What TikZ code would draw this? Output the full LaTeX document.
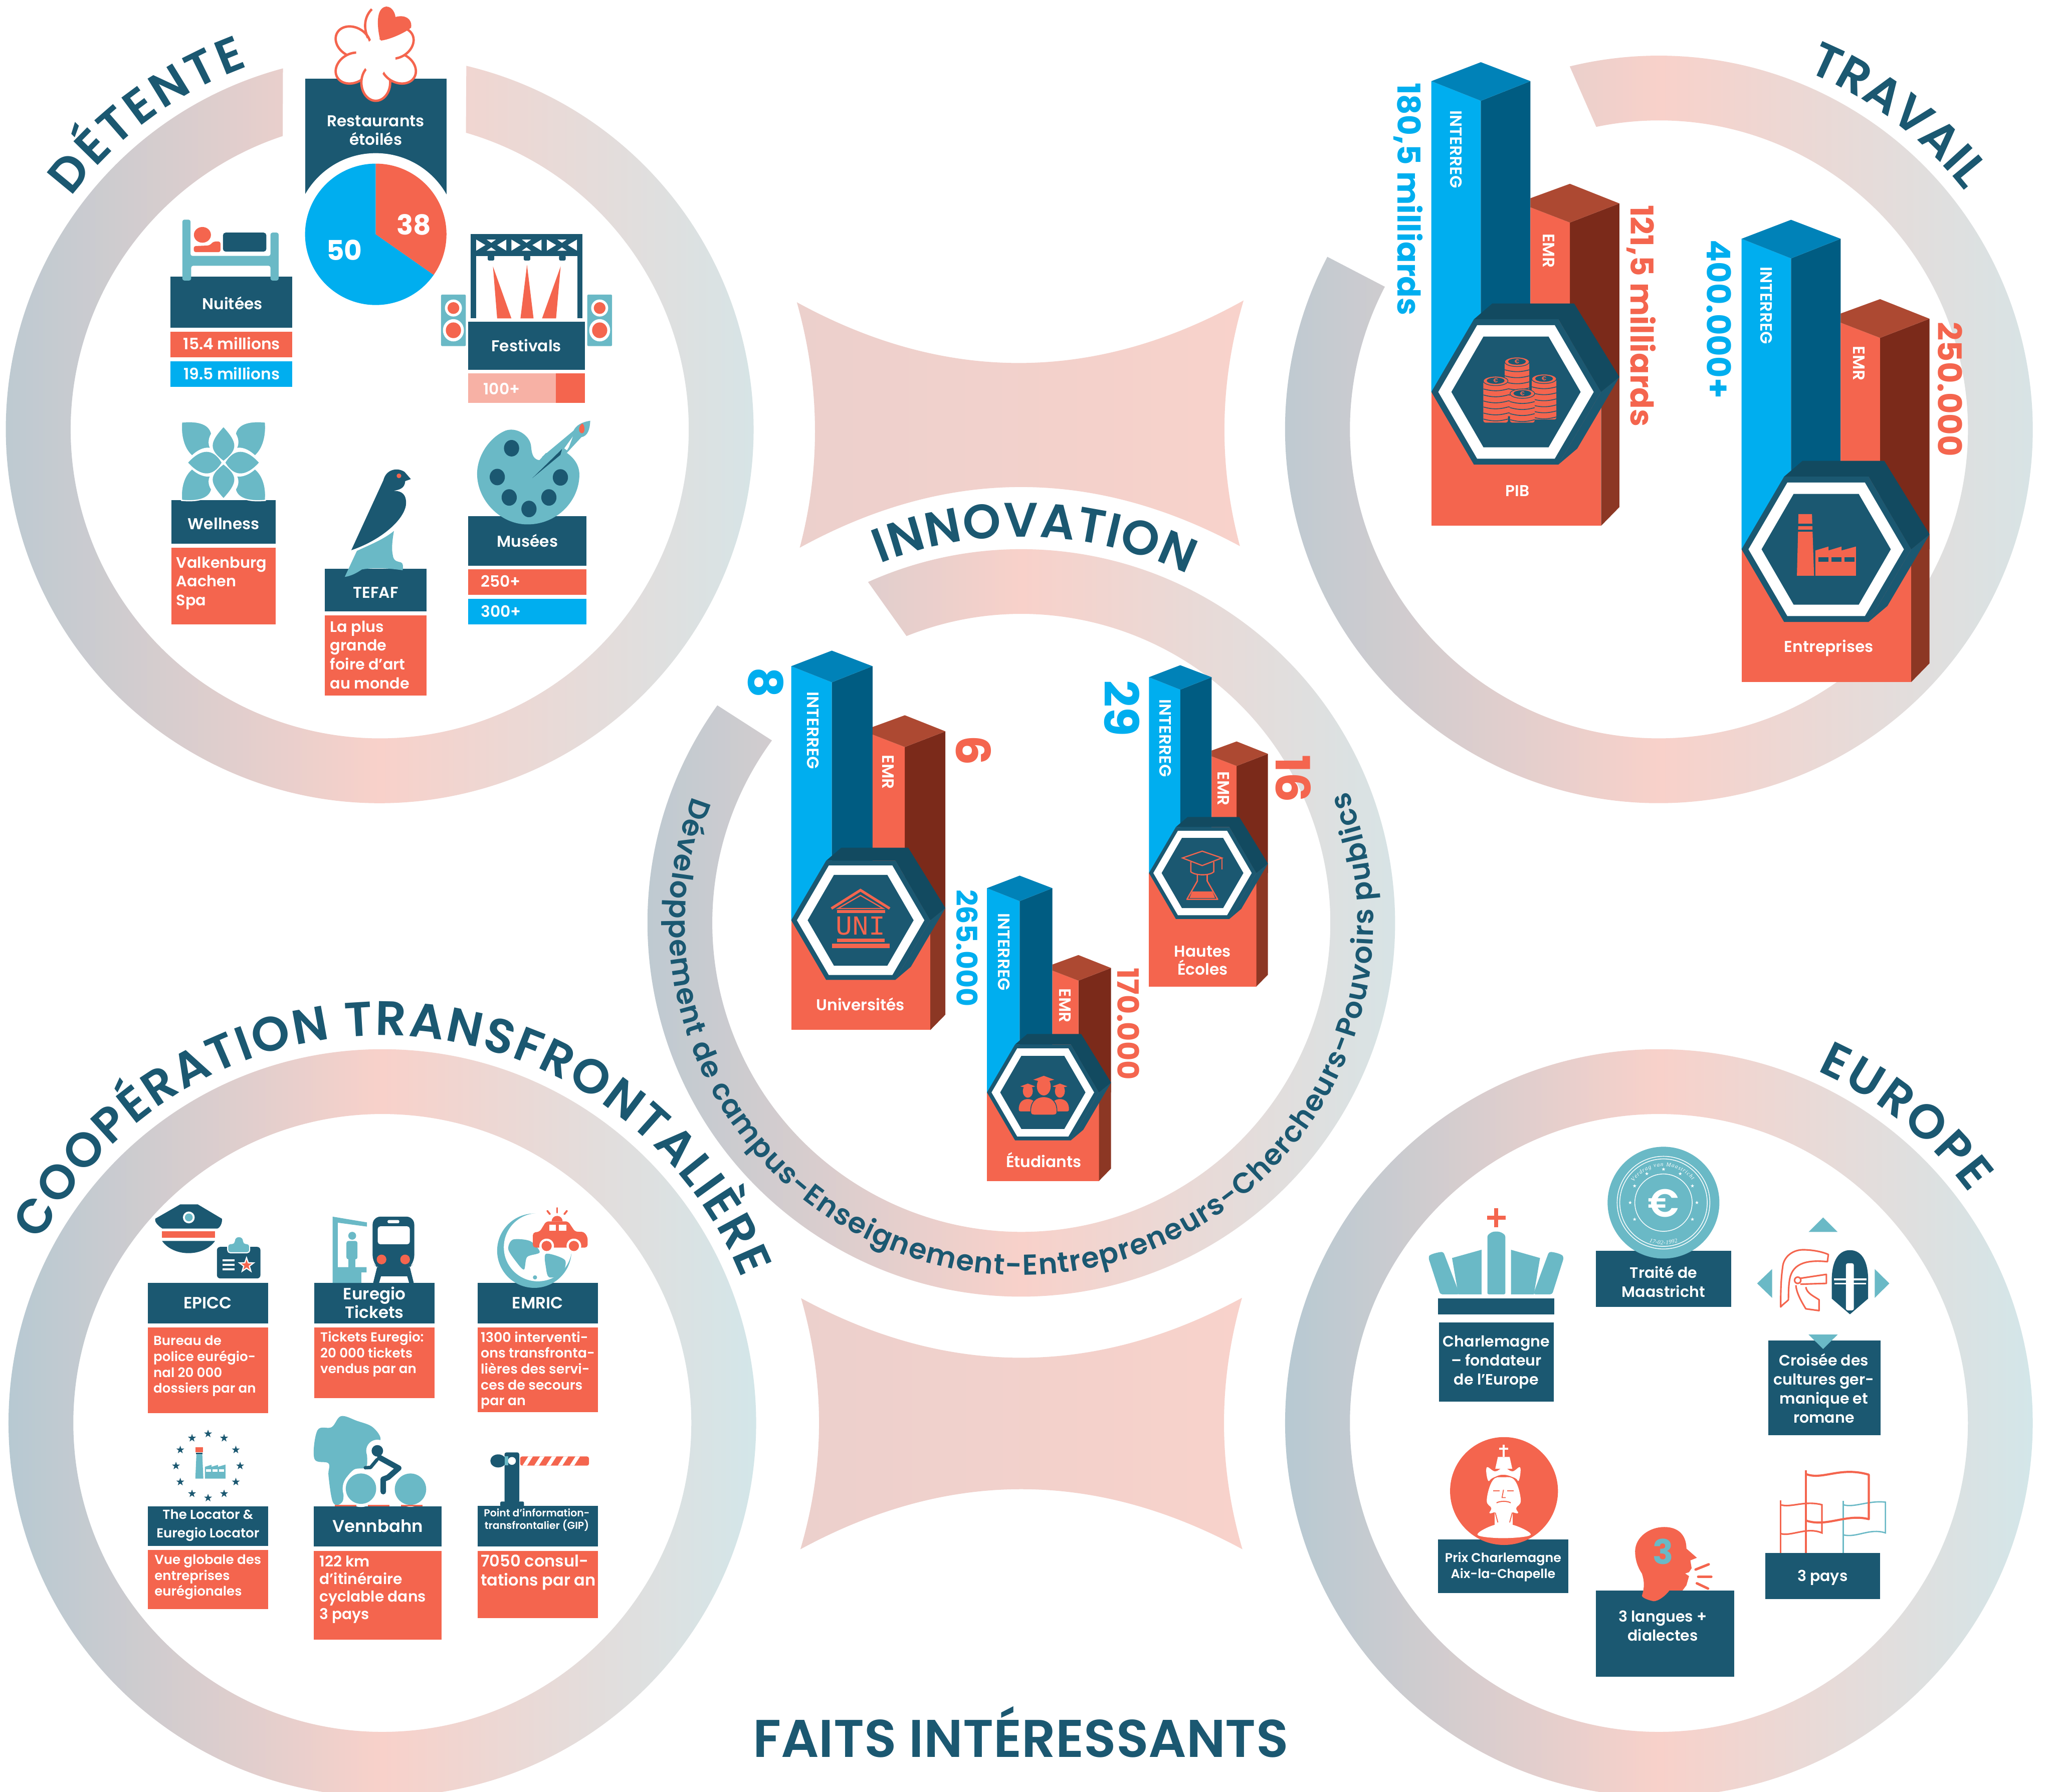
\documentclass[tikz,border=0pt]{standalone}
\usepackage{fontspec}
\setmainfont{Poppins}[UprightFont=* SemiBold,BoldFont=* Bold]
\newfontfamily\serifmini{Liberation Serif}
\newfontfamily\monomini{Liberation Mono}
\usetikzlibrary{decorations.text}
\definecolor{dk}{HTML}{1B5871}
\definecolor{cor}{HTML}{F4654E}
\definecolor{blu}{HTML}{00AEEF}
\definecolor{tl}{HTML}{6AB9C6}
\definecolor{blutop}{HTML}{0082B8}
\definecolor{bludk}{HTML}{005C82}
\definecolor{emrtop}{HTML}{AD4932}
\definecolor{emrdk}{HTML}{7B2A1A}
\definecolor{emrside}{HTML}{8C3724}
\definecolor{hexb}{HTML}{124A60}
\definecolor{lsalmon}{HTML}{F7B1A5}
\definecolor{starl}{HTML}{ECD0CC}
\definecolor{starr}{HTML}{F8D2CB}
\newcommand\fz[2]{\fontsize{#1}{#2}\selectfont}
\newcommand\tit{\color{dk}\fz{37}{37}}
\newcommand\rtx{\color{dk}\fz{22}{22}}
\newcommand\bx[5]{\fill[#1] (#2,#3) rectangle (#4,#5);}
\newcommand\arctext[7]{\path[decorate,decoration={text along path,text align={fit to path},text={|#6|#7}}] ({#1+#3*cos(#4)},{#2+#3*sin(#4)}) arc[start angle=#4,end angle=#5,radius=#3];}
\newcommand\ringfull[2]{\path[even odd rule,ringshade] (#1,#2) circle (285.5) (#1,#2) circle (236);}
% cx cy a1out a2out a1in a2in
\newcommand\ringpart[6]{\path[ringshade] ({#1+285.5*cos(#3)},{#2+285.5*sin(#3)}) arc[start angle=#3,end angle=#4,radius=285.5] -- ({#1+236*cos(#6)},{#2+236*sin(#6)}) arc[start angle=#6,end angle=#5,radius=236] -- cycle;}
\newcommand\starf[4]{\begin{scope}[shift={({#1},{#2})}]\fill[#4] (-90:#3)--(-54:{.4*#3})--(-18:#3)--(18:{.4*#3})--(54:#3)--(90:{.4*#3})--(126:#3)--(162:{.4*#3})--(198:#3)--(234:{.4*#3})--cycle;\end{scope}}
% x0 yh s T A B
\newcommand\isobar[6]{\begin{scope}[shift={(#1,#2)},scale=#3]
\fill[blu] (0,#4)--(37.8,{#4+15})--(37.8,0)--(0,0)--cycle;
\fill[bludk] (37.8,{#4+15})--(75.7,#4)--(75.7,0)--(37.8,0)--cycle;
\fill[blutop] (0,#4)--(37.8,{#4-14.5})--(75.7,#4)--(37.8,{#4+15})--cycle;
\fill[emrdk] (105.8,{#5+29.6})--(143.6,{#5+15})--(143.6,0)--(105.8,0)--cycle;
\fill[cor] (75.7,{#5+18})--(105.8,{#5+29.6})--(105.8,0)--(75.7,0)--cycle;
\fill[emrtop] (75.7,{#5+11})--(105.8,#5)--(143.6,{#5+15})--(105.8,{#5+29.6})--(75.7,{#5+18})--cycle;
\fill[cor] (0,0)--(129.6,0)--(129.6,#6)--(0,#6)--cycle;
\fill[emrside] (129.6,11)--(143.6,-11)--(143.6,{#6-14.3})--(129.6,#6)--cycle;
\fill[hexb] (32.5,-55.5)--(46.6,-67.6)--(109,-67.6)--(143.6,-11.4)--(129.6,0)--(97,-55.5)--cycle;
\fill[dk] (129.6,0)--(143.6,-11.4)--(111.4,43.3)--(97,55.5)--cycle;
\fill[dk] (0,0)--(32.5,-55.5)--(97,-55.5)--(129.6,0)--(97,55.5)--(32.5,55.5)--cycle;
\fill[white] (5.3,0)--(35,-51)--(94.2,-51)--(124,0)--(94.2,51)--(35,51)--cycle;
\fill[dk] (15.3,0)--(39.8,-42.3)--(89.5,-42.3)--(114,0)--(89.5,42.3)--(39.8,42.3)--cycle;
\end{scope}}
% x ytop ybot name nlines
\newcommand\coin[5]{\fill[cor,rounded corners=1.5] ({#1-9.4},{#2+3}) rectangle ({#1+9.4},#3);
\foreach \k in {1,...,#5}{\draw[dk,line width=.6] ({#1-9.4},{#2+4.5+\k*4.6}) to[bend right=15] ({#1+9.4},{#2+4.5+\k*4.6});}
\fill[cor] (#1,{#2+3}) ellipse (9.4 and 3.6);
\draw[dk,line width=.5] (#1,{#2+3}) ellipse (9.4 and 3.6);
\fill[dk] (#1,{#2+2.8}) ellipse (6.8 and 2.4);
\node[inner sep=0,text=cor,font=\fz{4.5}{5}] (#4) at (#1,{#2+2.8}) {€};}
\tikzset{
 ringshade/.style={left color=ringl,right color=ringr,middle color=ringm},
 starshade/.style={left color=starl,right color=starr},
 txt/.style={inner sep=0,text=white,align=center,font=\fz{12}{14}},
 ltx/.style={inner sep=0,text=white,align=left,anchor=north west,font=\fz{10}{12.1}},
 vert/.style={inner sep=0,rotate=-90,anchor=west,text=white,font=\fz{12.6}{13}},
 blv/.style={inner sep=0,rotate=-90,anchor=west,text=blu},
 crv/.style={inner sep=0,rotate=-90,anchor=west,text=cor},
}
\definecolor{ringl}{HTML}{B7C9D2}
\definecolor{ringm}{HTML}{F8D1CA}
\definecolor{ringr}{HTML}{D3E6E9}
\begin{document}
\begin{tikzpicture}[x=1pt,y=-1pt]
\useasboundingbox (0,0) rectangle (1568,1368.7);
\fill[white] (0,0) rectangle (1568,1368.7);
% ---------- rings
\ringpart{290}{328}{-105}{-436.6}{-108.3}{-433.8}
\ringpart{1267}{328}{-152.5}{-463.8}{-152.5}{-461.7}
\ringpart{780}{705}{-144.4}{-474.2}{-143.8}{-471.8}
\ringfull{292}{1087}
\ringfull{1267}{1087}
% ---------- centre shapes
\path[starshade] (608.6,230.9) .. controls (722,293) and (836,293) .. (949.8,229.5) .. controls (931.3,292) and (930.3,354.7) .. (947,417.2) .. controls (835,356.8) and (723,356.8) .. (610.8,418.4) .. controls (627.3,356) and (626,293) .. cycle;
\path[starshade] (611.8,991.7) .. controls (724,1052.4) and (836,1052.4) .. (948.6,991.4) .. controls (930.2,1055.5) and (930.2,1119.5) .. (948.9,1183.5) .. controls (836,1122.3) and (724,1122.3) .. (611.3,1183.5) .. controls (630.2,1119.5) and (630.2,1055.5) .. cycle;
% ---------- titles on arcs
\arctext{290}{328}{295}{-143}{-110}{\tit}{DÉTENTE}
\arctext{1267}{328}{296}{-67.5}{-38}{\tit}{TRAVAIL}
\arctext{780}{705}{295}{-111.5}{-64.5}{\tit}{INNOVATION}
\arctext{292}{1087}{296}{-152}{-22}{\tit}{COOPÉRATION TRANSFRONTALIÈRE}
\arctext{1267}{1087}{295}{-65.8}{-36.5}{\tit}{EUROPE}
\arctext{780}{705}{269}{-159}{-382}{\rtx}{Développement de campus-Enseignement-Entrepreneurs-Chercheurs-Pouvoirs publics}
\node[inner sep=0,text=dk,font=\fz{40.5}{40}] (faits) at (779.5,1323) {FAITS INTÉRESSANTS};
% ---------- DETENTE boxes
\bx{dk}{233}{60}{341}{148.5}
\fill[white] (287,179) circle (62);
\fill[blu] (287,179) -- ++(35:54) arc[start angle=35,end angle=270,radius=54] -- cycle;
\fill[cor] (287,179) -- ++(-90:54) arc[start angle=-90,end angle=35,radius=54] -- cycle;
\bx{dk}{130.2}{211.4}{223}{250.3}
\bx{cor}{130.2}{253.3}{223}{273}
\bx{blu}{130.2}{275.9}{223}{295.6}
\bx{dk}{357.5}{245.6}{446.7}{282.7}
\bx{lsalmon}{357.5}{285.3}{424.5}{307.7}
\bx{cor}{424.5}{285.3}{446.7}{307.7}
\bx{dk}{131.1}{382}{210.7}{415.2}
\bx{cor}{131.1}{418.3}{210.7}{477}
\bx{dk}{248.1}{434.5}{325.7}{467}
\bx{cor}{248.1}{470}{325.7}{531.2}
\bx{dk}{357.5}{394.2}{448}{432}
\bx{cor}{357.5}{434.8}{448}{454.5}
\bx{blu}{357.5}{457.5}{448}{477}
% Michelin flower
\begin{scope}[shift={(287,42)}]
\foreach \a/\d in {150/20,210/20,270/21,330/20,30/18}{
 \fill[white,draw=cor,line width=1.8,rotate=\a] (\d,0) ellipse (14 and 11);}
\fill[white] (-3,-12) -- (3,-12) -- (12,-4) -- (12,4) -- (4,16) -- (-4,16) -- (-12,4) -- (-12,-4) -- cycle;
\fill[white] (0,0) circle (11);
\fill[white] (-15,-5) -- (0,0) -- (-15,5) -- cycle;
\fill[white] (15,-5) -- (0,0) -- (15,5) -- cycle;
\fill[cor] (3,-13) .. controls (1,-22) and (0,-36) .. (8,-37) .. controls (13,-37) and (15,-31) .. (15,-29) .. controls (22,-31) and (28,-28) .. (27,-21) .. controls (24,-18) and (12,-12) .. (4,-11) -- cycle;
\draw[cor,line width=1.8] (-6,-13) .. controls (-10,-22) and (-8,-30) .. (-3,-35);
\end{scope}
% bed
\begin{scope}[tl]
\fill[rounded corners=1.5] (139.3,214.3) -- (139.3,167.8) -- (145.5,167.8) -- (145.5,195.5) -- (206.6,195.5) -- (206.6,177.7) -- (212.8,177.7) -- (212.8,214.3) -- (206.6,214.3) -- (206.6,203) -- (146,203) -- (146,214.3) -- cycle;
\end{scope}
\fill[cor] (154.6,179.4) ellipse (6.5 and 6);
\fill[cor,rounded corners=1.5] (148,188) -- (160,187.5) -- (163,184.5) -- (168.4,184.5) -- (168.4,192.6) -- (148,192.6) -- cycle;
\fill[dk,rounded corners=2] (170.3,192.2) -- (170.3,177.7) -- (203.4,177.7) -- (203.4,192.2) -- cycle;
% stage
\fill[dk] (359.6,178.7) rectangle (444.8,195.5);
\fill[dk] (359.6,195) rectangle (363.7,243);
\fill[dk] (441,195) rectangle (444.8,243);
\foreach \xx in {363.7,390.6,417.7}{
 \fill[white] (\xx,183) -- (\xx,191.5) -- ({\xx+7},187.2) -- cycle;
 \fill[white] ({\xx+23},183) -- ({\xx+23},191.5) -- ({\xx+16},187.2) -- cycle;
 \fill[white] ({\xx+8},183) -- ({\xx+15},183) -- ({\xx+11.5},185.5) -- cycle;
 \fill[white] ({\xx+8},191.5) -- ({\xx+15},191.5) -- ({\xx+11.5},189) -- cycle;
}
\foreach \xx in {375,402.5,429.5}{\fill[dk,rounded corners=1] ({\xx-2.5},195) rectangle ({\xx+2.5},199);}
\fill[cor] (376.5,203.5) -- (379.7,243.2) -- (390.6,243.2) -- cycle;
\fill[cor] (402.5,202.3) -- (397.5,243.2) -- (407.5,243.2) -- cycle;
\fill[cor] (428.2,203.5) -- (414,243.2) -- (424.7,243.2) -- cycle;
\foreach \xx in {346.3,458}{
 \fill[tl,rounded corners=1] ({\xx-9.5},225) rectangle ({\xx+9.5},264.4);
 \fill[white] (\xx,235.3) ellipse (6.5 and 6.5);
 \fill[cor] (\xx,235.3) ellipse (4.5 and 4.5);
 \fill[white] (\xx,252.3) ellipse (8 and 8.5);
 \fill[cor] (\xx,252.3) ellipse (5.8 and 6);
}
% wellness
\begin{scope}[shift={(170.7,353.4)},tl]
\foreach \sx/\sy/\ex in {1/1/0,-1/1/0,1/-.93/0,-1/-.93/0}{
 \begin{scope}[xscale=\sx,yscale=\sy]
 \fill[draw=white,line width=.9] (-32,-31) .. controls (-22,-32) and (-11,-31) .. (-9,-22) .. controls (-12,-17) and (-11,-13) .. (-9.5,-10.5) .. controls (-13,-12) and (-19,-10) .. (-24,-5) .. controls (-30,-10) and (-33,-20) .. cycle;
 \end{scope}}
\fill (0,-27) .. controls (-11,-15) and (-11,-10) .. (0,-1.5) .. controls (11,-10) and (11,-15) .. cycle;
\fill (0,27) .. controls (-11,15) and (-11,10) .. (0,1.5) .. controls (11,10) and (11,15) .. cycle;
\fill (-27,0) .. controls (-17,-11) and (-8,-11) .. (-1.5,0) .. controls (-8,11) and (-17,11) .. cycle;
\fill (27,0) .. controls (17,-11) and (8,-11) .. (1.5,0) .. controls (8,11) and (17,11) .. cycle;
\end{scope}
% TEFAF bird
\fill[tl] (272.6,420.8) .. controls (283,416) and (293,412) .. (300.9,405.6) .. controls (299.5,413) and (299,420) .. (300,424) .. controls (300.5,429) and (304,429) .. (306,429.5) .. controls (308,430) and (308,433) .. (307.5,435.6) .. controls (297,434) and (285,433.5) .. (276.4,435) .. controls (272,438) and (268,440) .. (263.3,440.7) -- cycle;
\fill[dk] (268.3,420.3) -- (292.8,366.9) .. controls (295,358) and (304,357) .. (309,360.5) -- (313.8,366) -- (309.5,367.5) .. controls (309,373) and (306,374.5) .. (296,375.5) .. controls (306,373.5) and (311,377) .. (310,386) .. controls (308,398) and (290,413) .. cycle;
\fill[cor] (304.7,363.5) circle (1.8);
% palette
\fill[tl] (412,351.5) .. controls (406,351) and (406,344) .. (405.5,340) .. controls (404,332) and (394,326) .. (386,329) .. controls (374,334) and (364.4,348) .. (364.4,362) .. controls (364.4,382) and (382,400.6) .. (402.8,400.6) .. controls (426,400.6) and (442.5,382) .. (442.5,362.7) .. controls (442.5,354) and (437,349) .. (433,346) -- (425,352) -- (417,346) -- cycle;
\foreach \xx/\yy in {390.7/342.4,379.8/364.4,388.9/380,404/388.8,419.2/380,428/364.7}{\fill[dk] (\xx,\yy) ellipse (5.8 and 6.3);}
\fill[tl] (414,349) -- (438,329) .. controls (440,325) and (444,322.5) .. (450.8,321.4) .. controls (450.5,328) and (449,333) .. (444,334) -- (431,348) -- (425,355) -- cycle;
\fill[white] (431,342.5) -- (437.5,333.5) -- (434.5,341.5) -- (433,344) -- cycle;
\fill[dk] (406.6,365.2) -- (429.3,343) -- (428,347.5) -- cycle;
\fill[cor] (444.7,323.5) .. controls (447,325) and (447,331) .. (444.5,331) .. controls (442,331) and (441,326) .. cycle;
% DETENTE text
\node[txt] (t1) at (287,99.5) {Restaurants\\étoilés};
\node[txt,font=\fz{21}{21}\bfseries] (t2) at (316,171.5) {38};
\node[txt,font=\fz{21}{21}\bfseries] (t3) at (263,191) {50};
\node[txt] (t4) at (177.5,231.5) {Nuitées};
\node[txt] (t5) at (177,262.5) {15.4 millions};
\node[txt] (t6) at (177,285.5) {19.5 millions};
\node[txt] (t7) at (402,264) {Festivals};
\node[inner sep=0,text=white,anchor=west,font=\fz{12}{14}] (t8) at (369,297) {100+};
\node[txt] (t9) at (170.9,400) {Wellness};
\node[ltx,font=\fz{11.6}{14.4}] (t10) at (134.5,425) {Valkenburg\\Aachen\\Spa};
\node[txt] (t11) at (287,452.5) {TEFAF};
\node[ltx,font=\fz{11.6}{14.4}] (t12) at (252,474) {La plus\\grande\\foire d’art\\au monde};
\node[txt] (t13) at (402.8,413) {Musées};
\node[inner sep=0,text=white,anchor=west,font=\fz{12}{14}] (t14) at (367,444) {250+};
\node[inner sep=0,text=white,anchor=west,font=\fz{12}{14}] (t15) at (367,467) {300+};
% ---------- bars
\isobar{1093.2}{299.4}{1}{-237.4}{-159}{102.3}
\isobar{1330.1}{419.6}{1}{-237.2}{-191.1}{101.4}
\isobar{604.3}{703}{.82}{-236.7}{-191}{102.2}
\isobar{753.8}{834.5}{.66}{-236.4}{-159}{102.4}
\isobar{877.5}{666.9}{.633}{-236.3}{-158.8}{137}
\node[vert] (v1) at (1112.2,84.2) {INTERREG};
\node[vert] (v2) at (1349,203.5) {INTERREG};
\node[vert] (v3) at (620.8,528.2) {INTERREG};
\node[vert] (v4) at (766.8,697.3) {INTERREG};
\node[vert] (v5) at (890,534) {INTERREG};
\node[vert] (e1) at (1182.7,178.2) {EMR};
\node[vert] (e2) at (1419.9,264.3) {EMR};
\node[vert] (e3) at (678.3,576.5) {EMR};
\node[vert] (e4) at (813.4,755) {EMR};
\node[vert] (e5) at (934.4,589.2) {EMR};
\node[blv,font=\fz{24}{24}\bfseries] (a1) at (1075.7,63) {180,5 milliards};
\node[crv,font=\fz{24}{24}\bfseries] (a2) at (1253.4,156.4) {121,5 milliards};
\node[blv,font=\fz{25}{25}\bfseries] (a3) at (1312.9,183) {400.000+};
\node[crv,font=\fz{25}{25}\bfseries] (a4) at (1489.4,245.7) {250.000};
\node[blv,font=\fz{36}{36}\bfseries] (a5) at (585,509.5) {8};
\node[crv,font=\fz{36}{36}\bfseries] (a6) at (743.6,561.5) {6};
\node[blv,font=\fz{21.8}{21}\bfseries] (a7) at (738.8,679.4) {265.000};
\node[crv,font=\fz{22.5}{21}\bfseries] (a8) at (861.9,739.2) {170.000};
\node[blv,font=\fz{36}{36}\bfseries] (a9) at (856.8,519.6) {29};
\node[crv,font=\fz{36}{36}\bfseries] (a10) at (987.7,576.5) {16};
\node[txt] (b1) at (1158.9,374.8) {PIB};
\node[txt] (b2) at (1396.8,495) {Entreprises};
\node[txt] (b3) at (657.2,767.2) {Universités};
\node[txt] (b4) at (797.2,886) {Étudiants};
\node[txt] (b5) at (918.5,733.7) {Hautes\\Écoles};
% coins
\coin{1158.6}{273.4}{318}{ca}{8}
\coin{1179.3}{286.4}{320.5}{cb}{6}
\coin{1142.3}{288}{322.8}{cc}{6}
\coin{1162.7}{297.7}{322.8}{cd}{4}
% factory in hex
\fill[cor] (1373.6,392.7) -- (1383.9,392.7) -- (1385.5,439.8) -- (1372.4,439.8) -- cycle;
\fill[dk] (1372,400) rectangle (1386,402);
\fill[dk] (1372,404.5) rectangle (1386,406);
\fill[cor] (1386.5,439.8) -- (1386.5,420.5) -- (1396.5,417.5) -- (1396.5,420.5) -- (1406.5,417.5) -- (1406.5,420.5) -- (1417.5,417.5) -- (1417.5,439.8) -- cycle;
\foreach \xx in {1388.8,1398.8,1408.8}{\fill[dk] (\xx,425.5) rectangle ({\xx+7.5},429);}
% UNI
\draw[cor,line width=2] (635,694) -- (657.2,680) -- (679.5,694);
\draw[cor,line width=.9] (640,694) -- (657.2,684) -- (674.5,694) -- cycle;
\fill[cor] (639.2,695) rectangle (675.9,697.3);
\node[inner sep=0,text=cor,font=\monomini\fz{21}{21}] (uni) at (657.2,707.3) {UNI};
\fill[cor] (639.2,716.9) rectangle (675.6,719.8);
\fill[cor] (635.3,721) rectangle (679.4,724.2);
% students
\foreach \xx/\yy/\s in {785/833.5/.72,809.5/833.5/.72,797.2/829.8/1}{
 \begin{scope}[shift={(\xx,\yy)},scale=\s]
 \fill[cor,draw=dk,line width=.6] (-10,20) .. controls (-10.5,12) and (-6,8) .. (0,8) .. controls (6,8) and (10.5,12) .. (10,20) .. controls (10,22) and (8,22) .. (6,22) -- (-6,22) .. controls (-8,22) and (-10,22) .. (-10,20) -- cycle;
 \fill[cor] (0,0) ellipse (5.3 and 7);
 \fill[cor] (-8,-5) -- (0,-8) -- (8,-5) -- (0,-3) -- cycle;
 \end{scope}}
% graduate / flask
\draw[cor,line width=.9,fill=dk] (903.1,655.4) -- (918.2,650.2) -- (933.2,655.4) -- (918.2,661.2) -- cycle;
\draw[cor,line width=.9] (909.5,658.5) -- (909.5,666) .. controls (913,669) and (924,669) .. (927,666) -- (927,658.5);
\draw[cor,line width=.7] (933.2,655.4) -- (933.2,664);
\draw[cor,line width=1,line join=round] (914.5,668) -- (914.5,673) -- (906.5,687) -- (930,687) -- (922,673) -- (922,668);
\fill[cor] (910.5,681) -- (926,681) -- (928,686) -- (908.5,686) -- cycle;
% ---------- COOPERATION boxes
\bx{dk}{112.9}{979.9}{204.7}{1011}
\bx{cor}{112.9}{1013.9}{204.7}{1079.4}
\bx{dk}{240.1}{979.9}{331.8}{1011}
\bx{cor}{240.1}{1013.9}{331.8}{1068}
\bx{dk}{364.8}{979.9}{456.5}{1011}
\bx{cor}{364.8}{1013.9}{456.5}{1078.6}
\bx{dk}{112.9}{1150.6}{204.7}{1181}
\bx{cor}{112.9}{1183.9}{204.7}{1229}
\bx{dk}{239.8}{1150.6}{337.4}{1181.2}
\bx{cor}{239.8}{1184.6}{337.4}{1252.5}
\bx{dk}{364.8}{1150.2}{456.5}{1181.2}
\bx{cor}{364.8}{1184.6}{456.5}{1235.9}
% police hat
\fill[dk] (137.7,920) -- (151,920) -- (169.5,931) .. controls (170,934) and (168,938) .. (166,938.5) -- (124,938.5) .. controls (120,936) and (118,933) .. (118.5,931) -- cycle;
\fill[white] (144.2,930) circle (4.5);
\fill[tl] (144.2,930) circle (3);
\fill[cor] (123.8,940.7) rectangle (164.2,945.7);
\fill[dk] (123.8,948) -- (164.2,948) .. controls (160,954) and (152,957.3) .. (144,957.3) .. controls (136,957.3) and (128,954) .. cycle;
\fill[dk,rounded corners=2.5] (165.7,952.5) rectangle (198.9,976.6);
\fill[tl,draw=white,line width=.8,rounded corners=2] (173.9,957) -- (173.9,950) -- (179,950) .. controls (179,943.5) and (186,943.5) .. (186,950) -- (190.7,950) -- (190.7,957) -- cycle;
\fill[white] (170,962) rectangle (179,963.5);
\fill[white] (170,965.5) rectangle (179,967);
\fill[white] (170,969) rectangle (179,970.5);
\starf{188.3}{966.5}{7}{white}
\starf{188.3}{966.5}{4.2}{cor}
% Euregio icon
\fill[tl] (254,929.4) -- (280.3,933.8) -- (280.3,937) -- (258,934) -- (258,968) -- (280,968) -- (280,972) -- (276,972) -- (276,980) -- (254,980) -- cycle;
\fill[tl] (269,944) circle (3);
\fill[tl,rounded corners=1.5] (264.6,948) rectangle (273,962);
\fill[tl] (266,960) rectangle (271.5,970);
\fill[dk] (285,980) -- (288,968) -- (313,968) -- (316,980) -- (312.5,980) -- (311,975) -- (291,975) -- (289.5,980) -- cycle;
\fill[dk] (291,971) rectangle (311,973);
\fill[dk,rounded corners=6] (284.6,965) -- (284.6,929.4) -- (316.4,929.4) -- (316.4,965) -- (311,969.8) -- (290,969.8) -- cycle;
\fill[white,rounded corners=2] (288.5,936.8) rectangle (313,950.5);
\fill[white,rounded corners=1] (296,932) rectangle (305,934.4);
\fill[cor] (291.4,962.1) circle (3.7);
\fill[cor] (309.4,962.1) circle (3.7);
% EMRIC globe & car
\fill[tl] (408.1,955.4) circle (28.4);
\fill[white] (410.8,952.8) circle (26);
\fill[tl] plot[smooth cycle] coordinates {(391.8,946.9)(405,948.1)(412.2,956.6)(402.6,960.2)(400.2,969.8)(394.2,963.8)(388.2,954.2)};
\fill[tl] plot[smooth cycle] coordinates {(417,957.8)(431.5,962.6)(429.1,973.4)(419.5,975.8)(417,968.6)};
\fill[tl] (408.6,975.8) circle (1.6);
\fill[cor,rounded corners=2] (407,953) -- (407,941.5) -- (412.2,940.9) -- (417.1,933) -- (433.9,933) -- (439.2,940.9) -- (446,941) -- (448.8,945) -- (448.8,953) -- cycle;
\fill[cor] (421.3,933) arc[start angle=180,end angle=360,radius=4.2] -- cycle;
\fill[white] (419.5,935.5) rectangle (424.5,940);
\fill[white] (427,935.5) rectangle (432.5,940);
\foreach \xx/\yy in {417.5/951.8,438.3/951.8}{\fill[white] (\xx,\yy) circle (5.6);\fill[cor] (\xx,\yy) circle (3.9);}
\draw[cor,line width=1.4,line cap=round] (425.5,922.8) -- (425.5,926.3);
\draw[cor,line width=1.4,line cap=round] (418,925) -- (420,927.5);
\draw[cor,line width=1.4,line cap=round] (433,925) -- (431,927.5);
% Locator
\foreach \a in {0,30,...,330}{\starf{158.9+24.5*cos(\a)}{1119.8+24.5*sin(\a)}{3.2}{dk}}
\fill[tl] (150,1111) -- (154.5,1111) -- (155.3,1129.5) -- (149.2,1129.5) -- cycle;
\fill[cor] (149.3,1105.4) rectangle (155.1,1109.5);
\fill[dk] (149.8,1109.7) rectangle (154.7,1110.8);
\fill[tl] (156.5,1129.5) -- (156.5,1120.5) -- (161.5,1119) -- (161.5,1120.5) -- (166.5,1119) -- (166.5,1120.5) -- (172.2,1118.8) -- (172.2,1129.5) -- cycle;
\foreach \xx in {157.5,162.5,167.3}{\fill[white] (\xx,1122.5) rectangle ({\xx+3.8},1124.3);}
% Vennbahn
\fill[tl] plot[smooth cycle,tension=.6] coordinates {(240.1,1114.3)(242.5,1092.6)(253.3,1090.2)(260.5,1081.8)(272.6,1085.4)(284.6,1090.2)(290.6,1099.8)(281,1105.9)(279.8,1120.3)(270.2,1122.7)(263,1132.3)(261.7,1146.8)(254.5,1148)(250.9,1127.5)(250.9,1117.9)};
\fill[white] (288.2,1108.3) circle (8.5);
\fill[white] (275.7,1137.2) circle (14);
\fill[tl] (275.7,1137.2) circle (11.6);
\fill[white] (313.5,1137.6) circle (13.5);
\fill[tl] (313.5,1137.6) circle (12);
\fill[dk] (288.2,1108.3) circle (4.4);
\draw[dk,line width=4.2,line cap=round,line join=round] (290,1113.5) -- (304.5,1121.5) -- (296.5,1128.5) -- (292.7,1130) -- (292.7,1139.5);
\draw[dk,line width=2.6,line cap=round,line join=round] (288,1115) -- (283,1121) -- (279,1121.2);
\foreach \xx in {255.6,280.8,306.2}{\fill[cor] (\xx,1149.5) rectangle ({\xx+16.6},1150.6);}
% barrier
\fill[cor,rounded corners=1.5] (397.3,1112.6) rectangle (449.8,1119.6);
\foreach \xx in {399,408,417,426,435}{\fill[white] (\xx,1119.6) -- ({\xx+3.5},1119.6) -- ({\xx+8},1112.6) -- ({\xx+4.5},1112.6) -- cycle;}
\fill[dk,rounded corners=1.5] (385.3,1109.5) rectangle (396.6,1148);
\fill[dk,rounded corners=1] (382.1,1147) rectangle (400.2,1151);
\fill[dk] (380.5,1116) ellipse (6 and 5);
\fill[tl] (385.4,1112.5) rectangle (388,1119.5);
\fill[white] (391,1116) circle (3);
% COOP text
\node[txt,font=\fz{12.5}{14}] (c1) at (158.8,995.5) {EPICC};
\node[txt,font=\fz{12.5}{14}] (c2) at (286,995) {Euregio\\Tickets};
\node[txt,font=\fz{12.5}{14}] (c3) at (410.6,995.5) {EMRIC};
\node[ltx] (c4) at (117,1020.2) {Bureau de\\police eurégio-\\nal 20 000\\dossiers par an};
\node[ltx] (c5) at (244.5,1017) {Tickets Euregio:\\20 000 tickets\\vendus par an};
\node[ltx,font=\fz{10.3}{12.1}] (c6) at (367,1017) {1300 interventi-\\ons transfronta-\\lières des servi-\\ces de secours\\par an};
\node[txt,font=\fz{10}{14}] (c7) at (158.8,1165.3) {The Locator \&\\Euregio Locator};
\node[txt,font=\fz{13}{14}] (c8) at (288.6,1165.8) {Vennbahn};
\node[txt,font=\fz{7.8}{9.4}] (c9) at (410,1161) {Point d’information-\\transfrontalier (GIP)};
\node[ltx] (c10) at (117.8,1187.3) {Vue globale des\\entreprises\\eurégionales};
\node[ltx,font=\fz{11.4}{13.4}] (c11) at (243.8,1188) {122 km\\d’itinéraire\\cyclable dans\\3 pays};
\node[ltx,font=\fz{12.3}{14.6}] (c12) at (367,1187.5) {7050 consul-\\tations par an};
% ---------- EUROPE boxes
\bx{dk}{1219}{955.5}{1322.4}{998.4}
\bx{dk}{1098.4}{992}{1186.9}{1004.2}
\bx{dk}{1099.2}{1010.3}{1186.6}{1070.7}
\bx{dk}{1350.4}{1023.9}{1436.4}{1096.4}
\bx{dk}{1098.4}{1175.9}{1197.7}{1217}
\bx{dk}{1219}{1215}{1324.4}{1280.8}
\bx{dk}{1348.4}{1186.4}{1436.1}{1221.6}
% crown
\fill[cor] (1135.6,928.8) rectangle (1150,931.8);
\fill[cor] (1141.1,923.1) rectangle (1144.1,937.5);
\fill[tl,rounded corners=1] (1136,988.7) -- (1136,944) .. controls (1138,941.8) and (1140,940.8) .. (1142.8,940.8) .. controls (1145.5,940.8) and (1148,942) .. (1149.7,944) -- (1149.7,988.7) -- cycle;
\fill[tl] (1109,961) -- (1131.5,954.7) -- (1131.5,988.7) -- (1113.8,988.7) -- cycle;
\fill[tl] (1176.2,961) -- (1154,954.7) -- (1154,988.7) -- (1171.5,988.7) -- cycle;
\fill[tl,rounded corners=1.5] (1091,961) .. controls (1092,958) and (1099,956.5) .. (1102.4,956.3) -- (1114.8,988.7) -- (1100,988.7) -- cycle;
\fill[tl,rounded corners=1.5] (1194.3,961) .. controls (1193,958) and (1187,956.5) .. (1183,956.3) -- (1171,988.7) -- (1185.5,988.7) -- cycle;
% seal
\fill[tl] (1270.5,918.7) circle (42.7);
\foreach \r in {35.4,33.4,21.9}{\draw[white,line width=.55] (1270.5,918.7) circle (\r);}
\foreach \a in {-90,-60,-120,-30,-150,0,180,30,150}{\starf{1270.5+25.5*cos(\a)}{918.7+25.5*sin(\a)}{1.4}{white}}
\arctext{1270.5}{918.7}{27.8}{-145}{-38}{\serifmini\itshape\color{white}\fz{4.4}{5}}{Verdrag van Maastricht}
\arctext{1270.5}{918.7}{32}{-250}{-290}{\serifmini\itshape\color{white}\fz{4.4}{5}}{17-02-1992}
\node[inner sep=0,text=white,font=\fz{30}{30}] (euro) at (1270.5,919) {€};
% arrows triangles
\fill[tl] (1381.3,941.1) -- (1403.5,941.1) -- (1392.4,930) -- cycle;
\fill[tl] (1381.3,1019.5) -- (1403.5,1019.5) -- (1392.4,1030.5) -- cycle;
\fill[tl] (1353.5,969.4) -- (1353.5,991.5) -- (1342,980.4) -- cycle;
\fill[tl] (1431.8,969.4) -- (1431.8,991.5) -- (1443,980.4) -- cycle;
% helmet
\draw[cor,line width=1.2,line join=round] (1396.4,958.3) .. controls (1390,955.5) and (1382,954.7) .. (1376.7,954.7) .. controls (1368,955) and (1362,961) .. (1361.5,968) .. controls (1360,978) and (1360,990) .. (1360,998.4) .. controls (1362,996) and (1364,995) .. (1365.9,992.9) .. controls (1366,987) and (1366,983) .. (1366.6,979) .. controls (1368,966) and (1378,962) .. (1395.7,963.8) -- cycle;
\draw[cor,line width=1.2,line join=round] (1373,978) circle (2.4);
\draw[cor,line width=1.2,line join=round] (1375,976.5) -- (1394.9,973.5) -- (1394.9,980.4) -- (1375,981);
\draw[cor,line width=1.2,line join=round] (1379.2,983.2) .. controls (1380,988) and (1385,990) .. (1389.3,992.9) -- (1389.3,1001.2) -- (1379.2,999.8) .. controls (1375,993) and (1372,987) .. (1371.6,981.8);
\fill[dk] (1399,978) .. controls (1399,962) and (1405,955) .. (1412.9,955) .. controls (1421,955) and (1426.8,962) .. (1426.8,978) -- (1426.8,992) -- (1412.9,1004) -- (1399,992) -- cycle;
\fill[white,rounded corners=1.5] (1409.8,965) rectangle (1415.9,1001);
\fill[white] (1400.5,976.5) -- (1425.5,976.5) -- (1425.5,978) -- (1400.5,978) -- cycle;
\fill[white] (1401,980) -- (1425,980) -- (1425,981) -- (1401,981) -- cycle;
% Charlemagne prize
\fill[cor] (1148.7,1139) circle (41.2);
\begin{scope}[white]
\fill (1147.6,1103.5) rectangle (1149.2,1113);
\fill (1145,1106) rectangle (1152,1107.4);
\fill (1144,1113) -- (1153,1113) -- (1155,1122) -- (1142,1122) -- cycle;
\fill plot[smooth cycle,tension=.7] coordinates {(1135.5,1121)(1142,1124)(1148.5,1121)(1155,1124)(1161,1121)(1160,1131)(1157,1129)(1148,1126.5)(1140,1129)(1136.5,1131)};
\fill plot[smooth cycle,tension=.7] coordinates {(1140,1131)(1148,1128.5)(1157,1131)(1161.5,1146)(1158,1152)(1159,1156)(1148,1153.5)(1138,1156)(1139,1152)(1135.5,1146)};
\fill (1141.5,1152) rectangle (1155.5,1165);
\fill plot[smooth cycle,tension=.6] coordinates {(1128.5,1172.5)(1141,1165)(1156,1165)(1169,1172.5)(1148,1175)};
\end{scope}
\foreach \xx in {1143,1153.5}{\draw[cor,line width=.8] ({\xx-2.5},1139) -- ({\xx+2.5},1139);}
\draw[cor,line width=.7] (1148.3,1138) -- (1147.2,1144) -- (1150,1144);
\draw[cor,line width=.8] (1143,1148) .. controls (1146,1146.5) and (1151,1146.5) .. (1153.8,1148);
\draw[cor,line width=.7] (1142,1155.5) -- (1144,1163);
\draw[cor,line width=.7] (1155,1155.5) -- (1153,1163);
% speaking head
\fill[cor] (1263,1223.2) .. controls (1257,1222) and (1254,1220) .. (1254,1219) .. controls (1256,1213) and (1256,1208) .. (1254,1202) .. controls (1250,1196) and (1248.8,1190) .. (1248.8,1185) .. controls (1249,1174) and (1260,1166.5) .. (1271,1166.5) .. controls (1284,1166.5) and (1288,1175) .. (1288,1183) -- (1296,1190) -- (1291,1192) -- (1292,1198) -- (1290,1201) -- (1287,1202) -- (1290,1204) -- (1288,1211) -- (1285,1215) -- (1275,1215) .. controls (1272,1219) and (1267,1223) .. cycle;
\node[inner sep=0,text=tl,font=\fz{26}{26}\bfseries] (three) at (1270.3,1185.3) {3};
\draw[cor,line width=1.9,line cap=round] (1295,1199) -- (1305,1195);
\draw[cor,line width=1.9,line cap=round] (1297,1204.5) -- (1307,1204.5);
\draw[cor,line width=1.9,line cap=round] (1296,1209.5) -- (1304.5,1213.5);
% flags
\draw[cor,line width=1.2] (1359.8,1146) -- (1359.8,1186.4);
\draw[cor,line width=1.2] (1359.8,1149.5) .. controls (1368,1152) and (1378,1146) .. (1391.5,1149.5) -- (1391.5,1171) .. controls (1380,1166) and (1368,1174) .. (1359.8,1171.5);
\draw[tl,line width=1] (1407.8,1146.5) -- (1407.8,1186.4);
\draw[tl,line width=1] (1407.8,1149.5) .. controls (1416,1152) and (1427,1146) .. (1440,1147.5) -- (1440,1171) .. controls (1428,1167) and (1418,1175) .. (1407.8,1172.5);
\draw[cor,line width=1.8] (1379.2,1123) -- (1379.2,1186.4);
\draw[cor,line width=1.6,line join=round] (1379.2,1126) .. controls (1392,1131) and (1405,1120) .. (1427.3,1126.5) -- (1427.3,1160.5) .. controls (1410,1156) and (1395,1167) .. (1379.2,1161.5);
% EUROPE text
\node[txt,font=\fz{11.5}{14.5}] (u1) at (1270.5,979) {Traité de\\Maastricht};
\node[txt,font=\fz{11.5}{14.5}] (u2) at (1142.8,1040.5) {Charlemagne\\– fondateur\\de l’Europe};
\node[txt,font=\fz{11.5}{14.5}] (u3) at (1393,1060.5) {Croisée des\\cultures ger-\\manique et\\romane};
\node[txt,font=\fz{9.7}{12}] (u4) at (1148,1197) {Prix Charlemagne\\Aix-la-Chapelle};
\node[txt,font=\fz{11.5}{14.5}] (u5) at (1270,1242) {3 langues +\\dialectes};
\node[txt,font=\fz{11.5}{14.5}] (u6) at (1392,1205) {3 pays};
\end{tikzpicture}
\end{document}
